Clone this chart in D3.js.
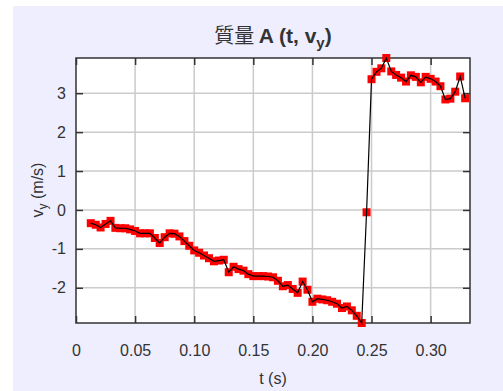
<!DOCTYPE html>
<html>
<head>
<meta charset="utf-8">
<script src="https://cdn.jsdelivr.net/npm/d3@7"></script>
<style>
  body { margin: 0; background: #fff; }
  svg text { font-family: "Liberation Sans", Arial, sans-serif; fill: #333; }
</style>
</head>
<body>
<svg id="chart" width="503" height="391"></svg>
<script>
// time samples (s)
var tData = [0.0125, 0.0167, 0.0208, 0.025, 0.0292, 0.0333, 0.0375, 0.0417, 0.0458, 0.05,
  0.0542, 0.0583, 0.0625, 0.0667, 0.0708, 0.075, 0.0792, 0.0833, 0.0875, 0.0917,
  0.0958, 0.1, 0.1042, 0.1083, 0.1125, 0.1167, 0.1208, 0.125, 0.1292, 0.1333,
  0.1375, 0.1417, 0.1458, 0.15, 0.1542, 0.1583, 0.1625, 0.1667, 0.1708, 0.175,
  0.1792, 0.1833, 0.1875, 0.1917, 0.1958, 0.2, 0.2042, 0.2083, 0.2125, 0.2167,
  0.2208, 0.225, 0.2292, 0.2333, 0.2375, 0.2417, 0.2458, 0.25, 0.2542, 0.2583,
  0.2625, 0.2667, 0.2708, 0.275, 0.2792, 0.2833, 0.2875, 0.2917, 0.2958, 0.3,
  0.3042, 0.3083, 0.3125, 0.3167, 0.3208, 0.325, 0.3292];
// vertical velocity (m/s)
var vyData = [-0.34, -0.38, -0.45, -0.36, -0.28, -0.46, -0.47, -0.47, -0.50, -0.54,
  -0.60, -0.60, -0.60, -0.72, -0.85, -0.70, -0.60, -0.61, -0.68, -0.80,
  -0.92, -1.04, -1.10, -1.17, -1.24, -1.32, -1.30, -1.28, -1.60, -1.46,
  -1.52, -1.56, -1.65, -1.70, -1.70, -1.70, -1.71, -1.73, -1.82, -1.96,
  -1.93, -2.03, -2.13, -1.84, -2.05, -2.36, -2.28, -2.30, -2.32, -2.36,
  -2.41, -2.52, -2.48, -2.58, -2.72, -2.905, -0.06, 3.36, 3.55, 3.64,
  3.905, 3.56, 3.47, 3.40, 3.30, 3.46, 3.42, 3.28, 3.42, 3.37,
  3.30, 3.18, 2.84, 2.86, 3.04, 3.43, 2.87];

var xTicks = [0, 0.05, 0.10, 0.15, 0.20, 0.25, 0.30];
var xTickLabels = ["0", "0.05", "0.10", "0.15", "0.20", "0.25", "0.30"];
var yTicks = [-2, -1, 0, 1, 2, 3];
var yTickLabels = ["-2", "-1", "0", "1", "2", "3"];
var xDomain = [0, 0.3333];

var svg = d3.select("#chart");
var margin = {left: 76, top: 58, right: 33, bottom: 68};
var width = 503 - margin.left - margin.right,
    height = 391 - margin.top - margin.bottom;

// lavender panel
svg.append("rect").attr("x", 13).attr("y", 6).attr("width", 490).attr("height", 385).attr("fill", "#eeeeff");

var g = svg.append("g").attr("transform", "translate(" + margin.left + "," + margin.top + ")");

var x = d3.scaleLinear().domain(xDomain).range([0, width]);
var y = d3.scaleLinear().domain(d3.extent(vyData)).range([height, 0]);

g.append("rect").attr("width", width).attr("height", height).attr("fill", "#fff");

// grid
g.selectAll(".gx").data(xTicks.slice(1)).enter().append("line")
  .attr("x1", function(d) { return x(d); }).attr("x2", function(d) { return x(d); })
  .attr("y1", 0).attr("y2", height)
  .attr("stroke", "#cbcbcb").attr("stroke-width", 1.5);
g.selectAll(".gy").data(yTicks).enter().append("line")
  .attr("y1", function(d) { return y(d); }).attr("y2", function(d) { return y(d); })
  .attr("x1", 0).attr("x2", width)
  .attr("stroke", "#cbcbcb").attr("stroke-width", 1.5);

// axes (inward ticks, mirrored)
var axB = g.append("g").attr("transform", "translate(0," + height + ")")
  .call(d3.axisBottom(x).tickValues(xTicks).tickSize(-7).tickPadding(22)
    .tickFormat(function(d) { return xTickLabels[xTicks.indexOf(d)]; }));
var axT = g.append("g")
  .call(d3.axisTop(x).tickValues(xTicks).tickSize(-7).tickFormat(""));
var axL = g.append("g")
  .call(d3.axisLeft(y).tickValues(yTicks).tickSize(-7).tickPadding(10)
    .tickFormat(function(d) { return yTickLabels[yTicks.indexOf(d)]; }));
var axR = g.append("g").attr("transform", "translate(" + width + ",0)")
  .call(d3.axisRight(y).tickValues(yTicks).tickSize(-7).tickFormat(""));

[axB, axT, axL, axR].forEach(function(a) {
  a.select(".domain").remove();
  a.selectAll(".tick line").attr("stroke", "#333").attr("stroke-width", 1.5);
  a.selectAll("text").attr("font-size", 16).attr("fill", "#333")
    .style("font-family", "'Liberation Sans', Arial, sans-serif");
});

g.append("rect").attr("width", width).attr("height", height)
  .attr("fill", "none").attr("stroke", "#333").attr("stroke-width", 1.5);

// markers
g.selectAll(".pt").data(tData).enter().append("rect")
  .attr("x", function(d) { return x(d) - 4; })
  .attr("y", function(d, i) { return y(vyData[i]) - 4; })
  .attr("width", 8).attr("height", 8)
  .attr("fill", "#ff0000");

var line = d3.line()
  .x(function(d) { return x(d); })
  .y(function(d, i) { return y(vyData[i]); });

g.append("path").datum(tData).attr("d", line)
  .attr("fill", "none").attr("stroke", "#000").attr("stroke-width", 1.2);

// title
var title = svg.append("text").attr("x", margin.left + width / 2).attr("y", 43)
  .attr("text-anchor", "middle").attr("font-size", 21).attr("font-weight", "bold");
title.append("tspan").attr("font-weight", "normal").style("font-family", "'Noto Sans CJK TC', sans-serif").attr("font-size", 20).text("質量 ");
title.append("tspan").text("A (t, v");
title.append("tspan").attr("font-size", 15).attr("dy", 5).text("y");
title.append("tspan").attr("dy", -5).text(")");

// axis labels
svg.append("text").attr("x", margin.left + width / 2).attr("y", 384)
  .attr("text-anchor", "middle").attr("font-size", 16).text("t (s)");

var yl = svg.append("text").attr("transform", "translate(43,190) rotate(-90)")
  .attr("text-anchor", "middle").attr("font-size", 16);
yl.append("tspan").text("v");
yl.append("tspan").attr("font-size", 12).attr("dy", 4).text("y");
yl.append("tspan").attr("dy", -4).text(" (m/s)");
</script>
</body>
</html>
